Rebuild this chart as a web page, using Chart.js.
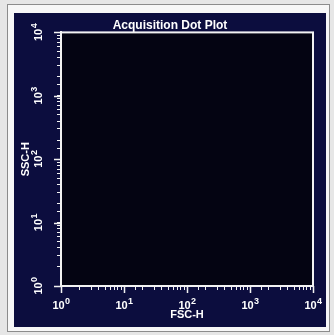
<!DOCTYPE html>
<html>
<head>
<meta charset="utf-8">
<script src="https://cdn.jsdelivr.net/npm/chart.js@4/dist/chart.umd.min.js"></script>
<style>
  html, body { margin: 0; padding: 0; background: #e6e6e6; }
  #frame {
    position: absolute; left: 7px; top: 4px; width: 321px; height: 326px;
    border: 1px solid #8c8c8c; background: #f7f7f7;
  }
  #panel {
    position: absolute; left: 14px; top: 13px; width: 312px; height: 314px;
    background: #0c0d3e;
  }
</style>
</head>
<body>
<div id="frame"></div>
<div id="panel"><canvas id="plot" width="312" height="314"></canvas></div>
<script>
// acquired events (none shown on this plot)
const fscValues = [];
const sscValues = [];

const axisMin = 1;
const axisMax = 10000;
const decades = [0, 1, 2, 3, 4];

const points = fscValues.map((x, i) => ({ x: x, y: sscValues[i] }));

const labelFont = "bold 11px 'Liberation Sans'";
const expFont = "bold 9px 'Liberation Sans'";

// draws "10" with a raised exponent; x,y = centre of the text on the baseline
function drawPower(ctx, p, x, y) {
  ctx.font = labelFont;
  const wBase = ctx.measureText("10").width;
  ctx.font = expFont;
  const wExp = ctx.measureText(String(p)).width;
  const start = x - (wBase + wExp) / 2;
  ctx.textAlign = "left";
  ctx.textBaseline = "alphabetic";
  ctx.font = labelFont;
  ctx.fillText("10", start, y);
  ctx.font = expFont;
  ctx.fillText(String(p), start + wBase + 0.5, y - 5);
}

const plotDecor = {
  id: "plotDecor",
  beforeDraw(chart) {
    const { ctx, chartArea: a } = chart;
    ctx.save();
    ctx.fillStyle = "#040412";
    ctx.fillRect(a.left, a.top, a.right - a.left, a.bottom - a.top);
    ctx.restore();
  },
  afterDraw(chart) {
    const { ctx, chartArea: a, scales } = chart;
    ctx.save();
    ctx.strokeStyle = "#f2f2f2";
    ctx.lineWidth = 2;
    ctx.strokeRect(a.left, a.top, a.right - a.left, a.bottom - a.top);
    // longer marks at the decades
    ctx.lineWidth = 1.5;
    decades.forEach(p => {
      const px = Math.round(scales.x.getPixelForValue(10 ** p)) + 0.5;
      const py = Math.round(scales.y.getPixelForValue(10 ** p)) + 0.5;
      ctx.beginPath();
      ctx.moveTo(px, a.bottom);
      ctx.lineTo(px, a.bottom + 7);
      ctx.moveTo(a.left, py);
      ctx.lineTo(a.left - 7, py);
      ctx.stroke();
    });
    ctx.fillStyle = "#ffffff";
    // decade labels on the x axis
    decades.forEach(p => {
      drawPower(ctx, p, scales.x.getPixelForValue(10 ** p), a.bottom + 23);
    });
    // decade labels on the y axis, rotated to read upwards
    decades.forEach(p => {
      ctx.save();
      ctx.translate(a.left - 19, scales.y.getPixelForValue(10 ** p));
      ctx.rotate(-Math.PI / 2);
      drawPower(ctx, p, 0, 0);
      ctx.restore();
    });
    ctx.restore();
  }
};

const titleFont = { family: "Liberation Sans", size: 12, weight: "bold" };
const axisFont = { family: "Liberation Sans", size: 11, weight: "bold" };

new Chart(document.getElementById("plot"), {
  type: "scatter",
  data: {
    datasets: [{
      label: "Events",
      data: points,
      pointRadius: 1,
      backgroundColor: "#ffffff"
    }]
  },
  options: {
    responsive: false,
    animation: false,
    plugins: {
      legend: { display: false },
      tooltip: { enabled: false },
      title: {
        display: true,
        text: "Acquisition Dot Plot",
        color: "#ffffff",
        font: titleFont,
        padding: { top: 5, bottom: 0 }
      }
    },
    scales: {
      x: {
        type: "logarithmic",
        min: axisMin,
        max: axisMax,
        afterFit(scale) { scale.height = 41; },
        grid: { drawOnChartArea: false, color: "#f2f2f2", tickLength: 4, tickWidth: 1 },
        border: { color: "#f2f2f2", width: 2 },
        ticks: { autoSkip: false, maxRotation: 0, callback: () => "" },
        title: {
          display: true,
          text: "FSC-H",
          color: "#ffffff",
          font: axisFont,
          padding: { top: 0, bottom: 5 }
        }
      },
      y: {
        type: "logarithmic",
        min: axisMin,
        max: axisMax,
        afterFit(scale) { scale.width = 47; },
        grid: { drawOnChartArea: false, color: "#f2f2f2", tickLength: 4, tickWidth: 1 },
        border: { color: "#f2f2f2", width: 2 },
        ticks: { autoSkip: false, callback: () => "" },
        title: {
          display: true,
          text: "SSC-H",
          color: "#ffffff",
          font: axisFont,
          padding: { top: 5, bottom: 0 }
        }
      },
      // empty right margin so the title centres on the whole panel
      margin: {
        type: "linear",
        position: "right",
        afterFit(scale) { scale.width = 13; },
        grid: { display: false },
        border: { display: false },
        ticks: { display: false }
      }
    }
  },
  plugins: [plotDecor]
});
</script>
</body>
</html>
